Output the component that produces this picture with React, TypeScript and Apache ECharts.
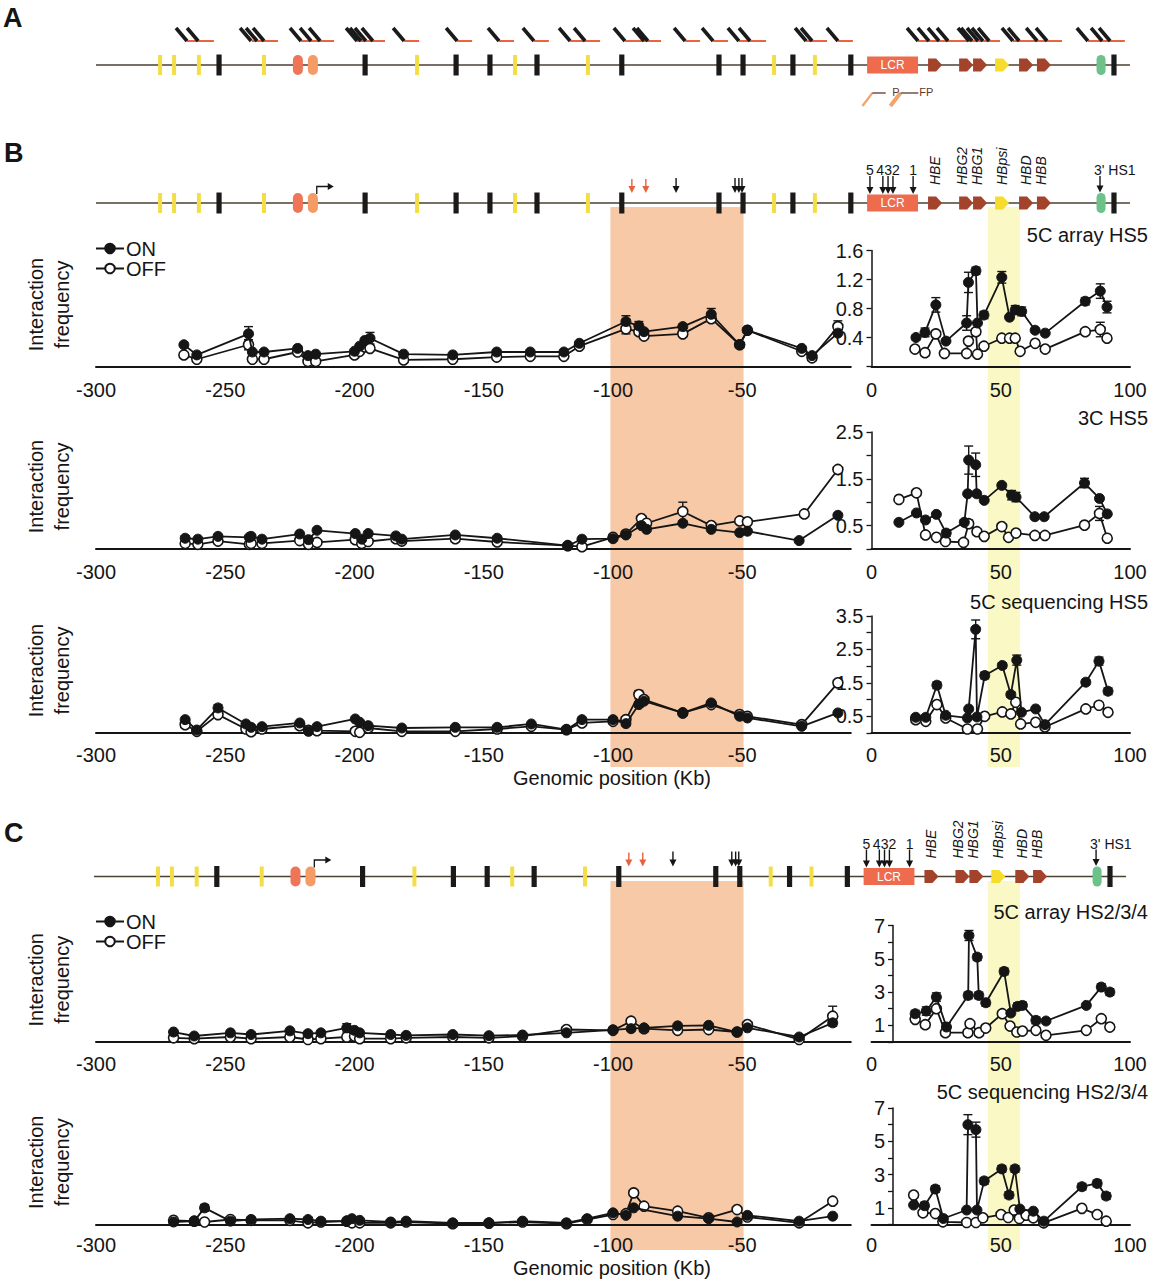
import React, { useEffect, useRef } from "react";
import * as echarts from "echarts";

const FONT = "'Liberation Sans', Arial, Helvetica, sans-serif";
const INK = "#151515";

// ---------------- gene map features (kb) ----------------
const yellowBars = [-275.2, -269.8, -260.2, -235.0, -175.8, -137.9, -109.7, -37.7, -21.9];
const blackBars = [-252.4, -195.9, -160.7, -147.6, -129.4, -96.6, -59.0, -49.7, -30.4, -8.0, 93.8];
const orangeOvals = [-221.9, -216.1];
const greenOvals = [88.8];
const lcrRegion = [-1.7, 18.0];
const genePos = [24.6, 36.6, 42.0, 50.5, 59.8, 66.7];
const geneIsPseudo = [0, 0, 0, 1, 0, 0];
const geneNames = ["HBE", "HBG2", "HBG1", "HBpsi", "HBD", "HBB"];
const geneLabelPos = [24.6, 34.9, 40.8, 50.5, 59.8, 65.6];
const promoterPos = [-214.6];
const primersA = [
  -264.8, -260.5, -240.0, -237.7, -235.0, -220.7, -216.8, -213.3, -199.0, -197.5, -195.6, -192.9,
  -180.8, -160.3, -144.1, -130.6, -116.6, -110.8, -95.4, -88.0, -86.5, -72.1, -61.3, -51.3, -47.0,
  -25.3, -23.0, -13.0, 18.0, 22.2, 26.1, 29.6, 37.7, 38.9, 41.2, 43.1, 45.5, 54.7, 57.1, 64.1, 67.9,
  83.7, 89.2, 92.3,
];
const fragmentsA = [
  [-264.8, -254.4], [-239.7, -229.6], [-220.7, -207.9], [-199.0, -188.2], [-180.8, -175.0],
  [-160.3, -154.5], [-144.1, -138.3], [-130.6, -124.8], [-116.6, -105.0], [-95.4, -81.4],
  [-72.1, -66.3], [-61.3, -55.5], [-51.3, -40.8], [-25.3, -17.2], [-13.0, -7.2], [18.0, 49.7],
  [54.7, 73.7], [83.7, 98.0],
];
const probeSlashes = [[-3.5, 0.3, 5.5], [7.3, 11.2, 18.1]];
const probeLabels = ["P", "FP"];
const probeLabelPos = [9.4, 21.2];
const redArrows = [-92.7, -87.3];
const blackArrows = [-75.6, -52.8, -51.3, -50.1];
const hsArrows = [-0.6, 4.4, 6.4, 8.3, 16.1];
const hsLabels = ["5", "432", "1"];
const hsLabelPos = [-0.6, 6.4, 16.1];
const hs1Pos = [88.4];
const orangeBand = [-101, -49.5];
const yellowBand = [45, 57.5];

// ---------------- 5C array HS5 ----------------
const a5OnL = [[-266,0.30],[-261,0.16],[-241,0.45],[-239.5,0.20],[-235,0.20],[-222,0.25],[-218,0.15],[-215,0.17],[-200,0.21],[-198,0.28],[-196,0.36],[-194,0.39],[-181,0.17],[-162,0.16],[-145,0.20],[-132,0.20],[-119,0.20],[-113,0.32],[-95,0.62],[-90,0.56],[-88,0.48],[-73,0.55],[-62,0.72],[-51,0.30],[-48,0.50],[-27,0.25],[-23,0.15],[-13,0.46]];
const a5OffL = [[-266,0.16],[-261,0.10],[-241,0.30],[-239.5,0.10],[-235,0.10],[-222,0.20],[-218,0.07],[-215,0.07],[-200,0.16],[-198,0.21],[-196,0.27],[-194,0.25],[-181,0.09],[-162,0.10],[-145,0.13],[-132,0.14],[-119,0.14],[-113,0.28],[-95,0.52],[-90,0.48],[-88,0.42],[-73,0.45],[-62,0.66],[-51,0.30],[-48,0.50],[-27,0.21],[-23,0.12],[-13,0.55]];
const a5OnLErr = [[-241,0.45,0.1],[-194,0.39,0.08],[-95,0.62,0.08],[-90,0.56,0.06],[-62,0.72,0.08]];
const a5OffLErr = [[-241,0.30,0.07],[-95,0.52,0.07],[-13,0.55,0.08]];
const a5OnR = [[17.2,0.40],[20.7,0.47],[24.9,0.85],[28.8,0.35],[36.8,0.60],[37.5,1.16],[40.4,1.32],[41.0,0.60],[43.5,0.71],[50.4,1.23],[53.4,0.68],[55.6,0.78],[58.1,0.76],[63.3,0.50],[67.2,0.46],[82.7,0.90],[88.5,1.04],[91.1,0.82]];
const a5OffR = [[16.8,0.24],[20.7,0.19],[24.9,0.45],[28.2,0.18],[36.8,0.18],[37.5,0.35],[40.4,0.48],[41.0,0.17],[43.5,0.28],[50.4,0.39],[53.4,0.39],[55.6,0.39],[57.5,0.21],[63.3,0.32],[67.2,0.24],[82.7,0.48],[88.5,0.51],[91.1,0.39]];
const a5OnRErr = [[20.7,0.47,0.06],[24.9,0.85,0.1],[37.5,1.16,0.14],[40.4,1.32,0.05],[36.8,0.60,0.1],[43.5,0.71,0.05],[50.4,1.23,0.08],[55.6,0.78,0.06],[58.1,0.76,0.06],[82.7,0.90,0.05],[88.5,1.04,0.1],[91.1,0.82,0.08]];
const a5OffRErr = [[88.5,0.51,0.1]];

// ---------------- 3C HS5 ----------------
const c3OnL = [[-265.5,0.23],[-260.6,0.21],[-252.8,0.27],[-240.7,0.25],[-240,0.27],[-235.8,0.21],[-221.2,0.32],[-217.8,0.20],[-214.5,0.40],[-199.7,0.33],[-197.2,0.21],[-194.7,0.33],[-184,0.28],[-181.7,0.21],[-161,0.30],[-144.8,0.23],[-117.5,0.07],[-112,0.21],[-100,0.22],[-95,0.30],[-89,0.50],[-87,0.42],[-73,0.55],[-62,0.42],[-51,0.35],[-48,0.38],[-28,0.18],[-13,0.72]];
const c3OffL = [[-265.5,0.12],[-260.6,0.10],[-252.8,0.17],[-240.7,0.10],[-240,0.12],[-235.8,0.12],[-221.2,0.18],[-217.8,0.10],[-214.5,0.14],[-199.7,0.20],[-197.2,0.12],[-194.7,0.16],[-184,0.22],[-181.7,0.17],[-161,0.22],[-144.8,0.15],[-117.5,0.07],[-112,0.05],[-100,0.25],[-95,0.32],[-89,0.65],[-87,0.55],[-73,0.80],[-62,0.50],[-51,0.60],[-48,0.58],[-26,0.75],[-13,1.70]];
const c3OnLErr = [[-265.5,0.23,0.05]];
const c3OffLErr = [[-73,0.80,0.2]];
const c3OnR = [[10.6,0.57],[17.4,0.77],[20.9,0.62],[25.1,0.74],[28.9,0.34],[35.9,0.57],[37.2,1.18],[37.6,1.90],[40.3,1.80],[40.7,1.18],[43.6,1.04],[50.4,1.36],[54.2,1.15],[55.9,1.11],[63.2,0.69],[66.8,0.69],[82.4,1.41],[88.2,1.08],[91.2,0.75]];
const c3OffR = [[10.6,1.06],[17.4,1.20],[20.9,0.30],[25.1,0.25],[28.6,0.16],[35.6,0.14],[37.6,0.54],[40.8,0.37],[43.6,0.27],[50.4,0.48],[53.0,0.25],[55.9,0.34],[63.2,0.29],[67.1,0.29],[82.4,0.51],[88.2,0.76],[91.2,0.23]];
const c3OnRErr = [[37.6,1.90,0.3],[40.3,1.80,0.25],[54.2,1.15,0.1],[55.9,1.11,0.1],[82.4,1.41,0.1],[28.9,0.34,0.07],[35.9,0.57,0.06],[20.9,0.62,0.05]];
const c3OffRErr = [[28.6,0.16,0.06],[82.4,0.51,0.06],[88.2,0.76,0.15],[37.6,0.54,0.08]];

// ---------------- 5C sequencing HS5 ----------------
const s5OnL = [[-265.5,0.40],[-261,0.09],[-252.8,0.75],[-242,0.27],[-240,0.17],[-235.8,0.19],[-221.2,0.30],[-217.8,0.05],[-214.5,0.19],[-199.7,0.42],[-198,0.32],[-194.7,0.22],[-181.7,0.15],[-161,0.17],[-144.8,0.17],[-131.6,0.27],[-118,0.10],[-112,0.40],[-100,0.40],[-95,0.28],[-90,0.85],[-88,0.95],[-73,0.60],[-62,0.90],[-51,0.50],[-48,0.45],[-27,0.20],[-13,0.60]];
const s5OffL = [[-265.5,0.25],[-261,0.05],[-252.8,0.55],[-242,0.12],[-240,0.04],[-235.8,0.12],[-221.2,0.22],[-217.8,0.08],[-214.5,0.07],[-199.7,0.05],[-198,0.02],[-194.7,0.15],[-181.7,0.05],[-161,0.05],[-144.8,0.12],[-131.6,0.20],[-118,0.10],[-112,0.30],[-100,0.35],[-95,0.40],[-90,1.15],[-88,1.00],[-73,0.60],[-62,0.85],[-51,0.55],[-48,0.50],[-27,0.25],[-13,1.50]];
const s5OnLErr = [[-252.8,0.75,0.1],[-90,0.85,0.08]];
const s5OffLErr = [[-90,1.15,0.12]];
const s5OnR = [[17.1,0.47],[21.0,0.47],[25.3,1.43],[28.7,0.53],[37.1,0.45],[37.6,0.72],[40.3,3.10],[40.8,0.48],[43.8,1.72],[50.6,2.02],[53.9,1.15],[56.2,2.18],[58.0,0.62],[63.5,0.72],[67.1,0.25],[82.9,1.52],[88.0,2.15],[91.5,1.25]];
const s5OffR = [[17.1,0.40],[21.0,0.35],[25.3,0.85],[28.7,0.45],[37.1,0.12],[41.0,0.12],[43.8,0.50],[50.6,0.63],[53.9,0.57],[55.8,0.92],[57.7,0.27],[63.5,0.32],[67.1,0.18],[82.9,0.72],[88.0,0.83],[91.5,0.62]];
const s5OnRErr = [[40.3,3.10,0.28],[25.3,1.43,0.1],[43.8,1.72,0.1],[50.6,2.02,0.08],[56.2,2.18,0.15],[53.9,1.15,0.08],[82.9,1.52,0.08],[88.0,2.15,0.12],[91.5,1.25,0.1],[17.1,0.47,0.06],[21.0,0.47,0.06],[28.7,0.53,0.06],[37.6,0.72,0.06],[63.5,0.72,0.06]];
const s5OffRErr = [[88.0,0.83,0.06],[91.5,0.62,0.06],[82.9,0.72,0.05]];

// ---------------- 5C array HS2/3/4 ----------------
const a234OnL = [[-270,0.6],[-262,0.36],[-248,0.55],[-240,0.45],[-225,0.67],[-218,0.5],[-213,0.55],[-203,0.85],[-200,0.7],[-198,0.55],[-186,0.45],[-180,0.4],[-162,0.45],[-148,0.38],[-135,0.42],[-118,0.55],[-100,0.73],[-93,0.8],[-88,0.85],[-75,0.97],[-63,1.0],[-52,0.6],[-48,0.85],[-28,0.3],[-15,1.15]];
const a234OffL = [[-270,0.25],[-262,0.2],[-248,0.3],[-240,0.2],[-225,0.3],[-218,0.15],[-213,0.2],[-203,0.3],[-200,0.35],[-198,0.2],[-186,0.2],[-180,0.25],[-162,0.3],[-148,0.25],[-135,0.35],[-118,0.75],[-100,0.7],[-93,1.25],[-88,0.8],[-75,0.7],[-63,0.75],[-52,0.6],[-48,1.05],[-28,0.15],[-15,1.55]];
const a234OnLErr = [[-203,0.85,0.25]];
const a234OffLErr = [[-15,1.55,0.6]];
const a234OnR = [[16.9,1.7],[21.2,1.86],[25.1,2.7],[29.0,0.9],[37.4,2.8],[37.7,6.4],[40.9,5.1],[41.5,2.8],[44.2,2.36],[51.3,4.24],[53.9,1.74],[56.5,2.14],[58.4,2.2],[63.6,1.3],[67.5,1.26],[83.1,2.2],[88.9,3.3],[92.2,3.0]];
const a234OffR = [[16.9,1.36],[20.8,1.04],[25.1,2.0],[28.6,0.56],[37.3,0.56],[38.1,1.1],[41.6,0.56],[44.2,0.84],[50.6,1.7],[53.6,0.96],[56.2,0.6],[58.4,0.66],[63.6,0.7],[67.5,0.4],[83.1,0.7],[88.9,1.4],[92.2,0.9]];
const a234OnRErr = [[37.7,6.4,0.3],[40.9,5.1,0.2],[37.4,2.8,0.2],[41.5,2.8,0.2],[51.3,4.24,0.2],[56.5,2.14,0.2],[58.4,2.2,0.2],[63.6,1.3,0.2],[88.9,3.3,0.2],[92.2,3.0,0.2],[21.2,1.86,0.25],[16.9,1.7,0.2],[25.1,2.7,0.25],[29.0,0.9,0.25],[44.2,2.36,0.2]];
const a234OffRErr = [];

// ---------------- 5C sequencing HS2/3/4 ----------------
const s234OnL = [[-270,0.15],[-262,0.2],[-258,1.0],[-248,0.2],[-240,0.3],[-225,0.35],[-218,0.3],[-213,0.2],[-203,0.2],[-201,0.35],[-198,0.25],[-186,0.15],[-180,0.2],[-162,0.1],[-148,0.1],[-135,0.2],[-118,0.1],[-110,0.35],[-100,0.7],[-95,0.55],[-92,1.0],[-75,0.5],[-63,0.35],[-52,0.15],[-48,0.55],[-28,0.2],[-15,0.5]];
const s234OffL = [[-270,0.25],[-262,0.2],[-258,0.15],[-248,0.3],[-240,0.25],[-225,0.25],[-218,0.1],[-213,0.15],[-203,0.2],[-201,0.1],[-198,0.1],[-186,0.1],[-180,0.15],[-162,0.05],[-148,0.08],[-135,0.15],[-118,0.05],[-110,0.3],[-100,0.6],[-95,0.65],[-92,1.9],[-88,1.1],[-75,0.8],[-63,0.4],[-52,0.9],[-48,0.45],[-28,0.1],[-15,1.4]];
const s234OnLErr = [[-258,1.0,0.2]];
const s234OffLErr = [];
const s234OnR = [[16.3,1.17],[20.5,1.13],[24.7,2.13],[27.8,0.36],[36.8,0.87],[37.3,6.0],[40.4,5.7],[40.8,0.87],[43.6,2.62],[50.4,3.34],[53.2,1.77],[55.5,3.34],[57.4,0.93],[62.6,0.80],[66.7,0.2],[81.4,2.27],[87.3,2.47],[90.8,1.71]];
const s234OffR = [[16.3,1.77],[19.9,0.70],[24.7,0.66],[27.6,0.16],[36.8,0.12],[40.4,0.12],[43.1,0.40],[50.1,0.60],[52.9,0.42],[55.2,0.87],[57.2,0.36],[59.8,0.56],[62.6,0.40],[66.6,0.10],[81.4,0.97],[87.3,0.60],[90.8,0.20]];
const s234OnRErr = [[37.3,6.0,0.6],[40.4,5.7,0.45],[43.6,2.62,0.2],[50.4,3.34,0.2],[55.5,3.34,0.2],[53.2,1.77,0.2],[81.4,2.27,0.2],[87.3,2.47,0.2],[90.8,1.71,0.2],[20.5,1.13,0.2],[24.7,2.13,0.2]];
const s234OffRErr = [];

const plotTitles = ["5C array HS5", "3C HS5", "5C sequencing HS5", "5C array HS2/3/4", "5C sequencing HS2/3/4"];
const plotYMax = [1.6, 2.5, 3.5, 7, 7];
const plotYInterval = [0.4, 0.5, 0.5, 1, 1];
const xTicksLeft = [-300, -250, -200, -150, -100, -50];
const xTicksRight = [0, 50, 100];

// ---------------- layout (styling) ----------------
const LAYOUT = [
  { top: 250.5, bottom: 366.5, titleY: 235, yOffset: 0, labelMargin: 13 },
  { top: 432, bottom: 549, titleY: 418, yOffset: 0, labelMargin: 13 },
  { top: 616, bottom: 733, titleY: 602, yOffset: 0, labelMargin: 12 },
  { top: 925.5, bottom: 1042, titleY: 912, yOffset: -21.5, labelMargin: 12 },
  { top: 1108, bottom: 1224.5, titleY: 1092, yOffset: -21.5, labelMargin: 10 },
];
const X0 = 871.5; // pixel of 0 kb
const PX = 2.585; // px per kb

function buildOption() {
  const grid: any[] = [];
  const xAxis: any[] = [];
  const yAxis: any[] = [];
  const series: any[] = [];

  const addGrid = (g: any, x: any, y: any) => {
    const gi = grid.length;
    grid.push({ ...g, containLabel: false, outerBoundsMode: "none" });
    xAxis.push({ gridIndex: gi, type: "value", ...x });
    yAxis.push({ gridIndex: gi, type: "value", ...y });
    return gi;
  };

  const custom = (gi: number, data: any[], draw: any, z = 10) => ({
    type: "custom",
    xAxisIndex: gi,
    yAxisIndex: gi,
    data,
    z,
    silent: true,
    clip: false,
    encode: { x: 0, y: 1 },
    renderItem: (params: any, api: any) => {
      const v = [api.value(0), api.value(1), api.value(2), api.value(3)];
      const p = api.coord([v[0], 0]);
      return draw(p, v, api);
    },
  });

  const txt = (x: number, y: number, text: string, s: any = {}, extra: any = {}) => ({
    type: "text",
    x,
    y,
    ...extra,
    style: {
      text,
      fill: INK,
      fontFamily: FONT,
      fontSize: 13,
      align: "center",
      textAlign: "center",
      verticalAlign: "middle",
      textVerticalAlign: "middle",
      ...s,
    },
  });

  const downArrow = (x: number, y1: number, y2: number, color: string) => ({
    type: "group",
    children: [
      { type: "line", shape: { x1: x, y1, x2: x, y2: y2 - 5 }, style: { stroke: color, lineWidth: 1.4 } },
      { type: "polygon", shape: { points: [[x - 3.5, y2 - 7], [x + 3.5, y2 - 7], [x, y2]] }, style: { fill: color } },
    ],
  });

  // ----- gene map builder -----
  const geneMap = (lineY: number, left: number, width: number, variant: "A" | "B") => {
    const gi = addGrid(
      { left, width, top: lineY - 10, height: 20 },
      { min: -300, max: 100, show: false },
      { min: -1, max: 1, show: false }
    );
    series.push(
      custom(gi, [[-300, 0, 100]], (p: any, v: any, api: any) => {
        const q = api.coord([v[2], 0]);
        return { type: "line", shape: { x1: p[0], y1: p[1], x2: q[0], y2: q[1] }, style: { stroke: "#4b4130", lineWidth: 1.4 } };
      }, 8)
    );
    series.push(custom(gi, yellowBars.map((k) => [k, 0]), (p: any) => ({
      type: "rect", shape: { x: p[0] - 2, y: p[1] - 10, width: 4, height: 20 }, style: { fill: "#F4DE45" },
    })));
    series.push(custom(gi, blackBars.map((k) => [k, 0]), (p: any) => ({
      type: "rect", shape: { x: p[0] - 2.6, y: p[1] - 10.5, width: 5.2, height: 21 }, style: { fill: "#1a1a1a" },
    })));
    series.push(custom(gi, orangeOvals.map((k, i) => [k, 0, i]), (p: any, v: any) => ({
      type: "rect", shape: { x: p[0] - 5, y: p[1] - 10, width: 10, height: 20, r: 5 }, style: { fill: v[2] === 0 ? "#EE7557" : "#F49B66" },
    })));
    series.push(custom(gi, greenOvals.map((k) => [k, 0]), (p: any) => ({
      type: "rect", shape: { x: p[0] - 4.5, y: p[1] - 10, width: 9, height: 20, r: 4.5 }, style: { fill: "#6DC28A" },
    })));
    series.push(custom(gi, [[lcrRegion[0], 0, lcrRegion[1]]], (p: any, v: any, api: any) => {
      const q = api.coord([v[2], 0]);
      return {
        type: "group",
        children: [
          { type: "rect", shape: { x: p[0], y: p[1] - 8.5, width: q[0] - p[0], height: 17 }, style: { fill: "#EE6B4D" } },
          txt((p[0] + q[0]) / 2, p[1], "LCR", { fill: "#ffffff", fontSize: 12 }),
        ],
      };
    }));
    series.push(custom(gi, genePos.map((k, i) => [k, 0, geneIsPseudo[i]]), (p: any, v: any) => {
      const x = p[0], y = p[1];
      return {
        type: "polygon",
        shape: { points: [[x - 7, y - 6.5], [x + 1, y - 6.5], [x + 7, y], [x + 1, y + 6.5], [x - 7, y + 6.5]] },
        style: { fill: v[2] === 1 ? "#F6DC2C" : "#A3432B" },
      };
    }));

    if (variant === "A") {
      series.push(custom(gi, fragmentsA.map((f) => [f[0], 0, f[1]]), (p: any, v: any, api: any) => {
        const q = api.coord([v[2], 0]);
        return { type: "line", shape: { x1: p[0], y1: p[1] - 24, x2: q[0], y2: q[1] - 24 }, style: { stroke: "#E9643F", lineWidth: 2 } };
      }));
      series.push(custom(gi, primersA.map((k) => [k, 0]), (p: any) => ({
        type: "line", shape: { x1: p[0] - 11, y1: p[1] - 37, x2: p[0], y2: p[1] - 24 }, style: { stroke: "#1a1a1a", lineWidth: 3.6 },
      }), 11));
      series.push(custom(gi, probeSlashes.map((s, i) => [s[0], 0, s[1], i]), (p: any, v: any, api: any) => {
        const s = probeSlashes[v[3]];
        const b = api.coord([s[1], 0]);
        const c = api.coord([s[2], 0]);
        const y = p[1];
        return {
          type: "group",
          children: [
            { type: "line", shape: { x1: p[0], y1: y + 41, x2: b[0], y2: y + 28 }, style: { stroke: "#F2A36C", lineWidth: v[3] === 0 ? 2.2 : 4 } },
            { type: "line", shape: { x1: b[0], y1: y + 28, x2: c[0], y2: y + 28 }, style: { stroke: "#5a3a2a", lineWidth: 1.3 } },
          ],
        };
      }));
      series.push(custom(gi, probeLabelPos.map((k, i) => [k, 0, i]), (p: any, v: any) =>
        txt(p[0], p[1] + 27, probeLabels[v[2]], { fontSize: 11, fill: "#5a3a2a" })
      ));
    } else {
      // promoter arrow
      series.push(custom(gi, promoterPos.map((k) => [k, 0]), (p: any) => {
        const x = p[0], y = p[1];
        return {
          type: "group",
          children: [
            { type: "polyline", shape: { points: [[x, y - 9], [x, y - 16.5], [x + 12, y - 16.5]] }, style: { stroke: INK, lineWidth: 1.3, fill: "none" } },
            { type: "polygon", shape: { points: [[x + 11, y - 20], [x + 11, y - 13], [x + 17, y - 16.5]] }, style: { fill: INK } },
          ],
        };
      }));
      series.push(custom(gi, redArrows.map((k) => [k, 0]), (p: any) => downArrow(p[0], p[1] - 24, p[1] - 10, "#E8603C")));
      series.push(custom(gi, blackArrows.map((k) => [k, 0]), (p: any) => downArrow(p[0], p[1] - 25, p[1] - 10, INK)));
      series.push(custom(gi, hsArrows.map((k) => [k, 0]), (p: any) => downArrow(p[0], p[1] - 27, p[1] - 9, INK)));
      series.push(custom(gi, hs1Pos.map((k) => [k, 0]), (p: any) => ({
        type: "group",
        children: [
          downArrow(p[0], p[1] - 27, p[1] - 10.5, INK),
          txt(p[0] - 6, p[1] - 33, "3' HS1", { fontSize: 14, align: "left", textAlign: "left" }),
        ],
      })));
      series.push(custom(gi, hsLabelPos.map((k, i) => [k, 0, i]), (p: any, v: any) =>
        txt(p[0], p[1] - 33, hsLabels[v[2]], { fontSize: 14 })
      ));
      series.push(custom(gi, geneLabelPos.map((k, i) => [k, 0, i]), (p: any, v: any) =>
        txt(p[0], p[1] - 18, geneNames[v[2]], { fontSize: 14, fontStyle: "italic", align: "left", textAlign: "left" }, { rotation: Math.PI / 2 })
      ));
    }
  };

  geneMap(65, 96, 1034, "A");
  geneMap(203, 96, 1034, "B");
  geneMap(876.5, 94, 1032, "B");

  // ----- highlighted bands -----
  const bands = (top: number, bottom: number) => {
    const gi = addGrid(
      { left: 96, width: 1034, top, height: bottom - top },
      { min: -300, max: 100, show: false },
      { min: 0, max: 1, show: false }
    );
    series.push(custom(gi, [[orangeBand[0], 0, orangeBand[1], 0], [yellowBand[0], 0, yellowBand[1], 1]], (p: any, v: any, api: any) => {
      const a = api.coord([v[0], 1]);
      const b = api.coord([v[2], 0]);
      return { type: "rect", shape: { x: a[0], y: a[1], width: b[0] - a[0], height: b[1] - a[1] }, style: { fill: v[3] === 0 ? "#F8C9A6" : "#FAF9C6" } };
    }, 0));
  };
  bands(207, 767);
  bands(881, 1250);

  // ----- plots -----
  const plotData = [
    [a5OnL, a5OffL, a5OnLErr, a5OffLErr, a5OnR, a5OffR, a5OnRErr, a5OffRErr],
    [c3OnL, c3OffL, c3OnLErr, c3OffLErr, c3OnR, c3OffR, c3OnRErr, c3OffRErr],
    [s5OnL, s5OffL, s5OnLErr, s5OffLErr, s5OnR, s5OffR, s5OnRErr, s5OffRErr],
    [a234OnL, a234OffL, a234OnLErr, a234OffLErr, a234OnR, a234OffR, a234OnRErr, a234OffRErr],
    [s234OnL, s234OffL, s234OnLErr, s234OffLErr, s234OnR, s234OffR, s234OnRErr, s234OffRErr],
  ];

  const lineSeries = (name: string, data: any[], gi: number, filled: boolean) => ({
    type: "line",
    name,
    xAxisIndex: gi,
    yAxisIndex: gi,
    data,
    symbol: "circle",
    symbolSize: 10,
    showSymbol: true,
    silent: true,
    z: filled ? 6 : 5,
    lineStyle: { color: INK, width: 1.8 },
    itemStyle: filled
      ? { color: INK, borderColor: INK, borderWidth: 1 }
      : { color: "#ffffff", borderColor: INK, borderWidth: 1.6 },
    emphasis: { disabled: true },
  });

  const errSeries = (data: any[], gi: number) => ({
    type: "custom",
    xAxisIndex: gi,
    yAxisIndex: gi,
    data,
    z: 4,
    silent: true,
    clip: false,
    encode: { x: 0, y: 1 },
    renderItem: (params: any, api: any) => {
      const x = api.value(0), y = api.value(1), e = api.value(2);
      const t = api.coord([x, y + e]);
      const b = api.coord([x, Math.max(0, y - e)]);
      const st = { stroke: INK, lineWidth: 1.4 };
      return {
        type: "group",
        children: [
          { type: "line", shape: { x1: t[0], y1: t[1], x2: b[0], y2: b[1] }, style: st },
          { type: "line", shape: { x1: t[0] - 4.5, y1: t[1], x2: t[0] + 4.5, y2: t[1] }, style: st },
          { type: "line", shape: { x1: b[0] - 4.5, y1: b[1], x2: b[0] + 4.5, y2: b[1] }, style: st },
        ],
      };
    },
  });

  LAYOUT.forEach((L, i) => {
    const height = L.bottom - L.top;
    const yMax = plotYMax[i];
    const yInt = plotYInterval[i];
    const xLabel = { fontSize: 20, color: INK, fontFamily: FONT, margin: L.labelMargin };
    const gl = addGrid(
      { left: 96, width: X0 + PX * -8 - 96, top: L.top, height },
      {
        min: -300, max: -8, interval: 50, z: 2,
        axisLine: { show: true, onZero: false, lineStyle: { color: INK, width: 2 } },
        axisTick: { show: false },
        splitLine: { show: false },
        axisLabel: { ...xLabel, formatter: (v: number) => (xTicksLeft.indexOf(v) >= 0 ? String(v) : "") },
      },
      { min: 0, max: yMax, show: false }
    );
    const gr = addGrid(
      { left: X0, width: PX * 100, top: L.top, height },
      {
        min: 0, max: 100, interval: 50, z: 2,
        axisLine: { show: true, onZero: false, lineStyle: { color: INK, width: 2 } },
        axisTick: { show: false },
        splitLine: { show: false },
        axisLabel: { ...xLabel, formatter: (v: number) => (xTicksRight.indexOf(v) >= 0 ? String(v) : "") },
      },
      {
        min: 0, max: yMax, interval: yInt, z: 2, offset: L.yOffset,
        axisLine: { show: true, onZero: false, lineStyle: { color: INK, width: 1.5 } },
        axisTick: { show: true, length: 5, lineStyle: { color: INK, width: 1.3 } },
        splitLine: { show: false },
        axisLabel: {
          fontSize: 20, color: INK, fontFamily: FONT, margin: 8,
          formatter: (v: number) => {
            if (i === 0) return v === 0 ? "" : v.toFixed(1);
            if (i === 1 || i === 2) return Math.round(v * 2) % 2 === 1 ? v.toFixed(1) : "";
            return Math.round(v) % 2 === 1 ? String(Math.round(v)) : "";
          },
        },
      }
    );
    const d = plotData[i];
    series.push(errSeries(d[3], gl), errSeries(d[2], gl));
    series.push(lineSeries("OFF", d[1], gl, false), lineSeries("ON", d[0], gl, true));
    series.push(errSeries(d[7], gr), errSeries(d[6], gr));
    series.push(lineSeries("OFF", d[5], gr, false), lineSeries("ON", d[4], gr, true));
  });

  const T = (x: number, y: number, text: string, style: any = {}, extra: any = {}) => ({
    type: "text",
    x,
    y,
    z: 100,
    silent: true,
    ...extra,
    style: {
      text,
      fill: INK,
      fontFamily: FONT,
      fontSize: 20,
      align: "left",
      textAlign: "left",
      verticalAlign: "middle",
      textVerticalAlign: "middle",
      ...style,
    },
  });

  const graphics: any[] = [
    T(3, 18, "A", { fontSize: 27, fontWeight: "bold" }),
    T(4, 153, "B", { fontSize: 27, fontWeight: "bold" }),
    T(4, 833, "C", { fontSize: 27, fontWeight: "bold" }),
    T(612, 778, "Genomic position (Kb)", { align: "center", textAlign: "center" }),
    T(612, 1268, "Genomic position (Kb)", { align: "center", textAlign: "center" }),
  ];
  LAYOUT.forEach((L, i) => {
    graphics.push(T(1148, L.titleY, plotTitles[i], { align: "right", textAlign: "right" }));
    graphics.push(
      T(49, (L.top + L.bottom) / 2 - 4, "Interaction\nfrequency", { align: "center", textAlign: "center", lineHeight: 26 }, { rotation: Math.PI / 2 })
    );
  });

  const legendBase = {
    orient: "vertical",
    left: 95,
    itemWidth: 28,
    itemHeight: 12,
    itemGap: 0,
    selectedMode: false,
    padding: 0,
    z: 50,
    textStyle: { fontSize: 20, lineHeight: 19, color: INK, fontFamily: FONT, padding: [0, 0, 0, -3] },
    data: ["ON", "OFF"],
  };

  return {
    animation: false,
    backgroundColor: "#ffffff",
    textStyle: { fontFamily: FONT },
    grid,
    xAxis,
    yAxis,
    series,
    legend: [
      { ...legendBase, top: 238.5 },
      { ...legendBase, top: 911.5 },
    ],
    graphic: { elements: graphics },
  };
}

export default function App() {
  const ref = useRef<HTMLDivElement>(null);
  useEffect(() => {
    document.body.style.margin = "0";
    const chart = echarts.init(ref.current as HTMLDivElement, null, { renderer: "svg" });
    chart.setOption(buildOption() as any);
    return () => chart.dispose();
  }, []);
  return <div ref={ref} style={{ width: 1154, height: 1280, background: "#fff" }} />;
}
